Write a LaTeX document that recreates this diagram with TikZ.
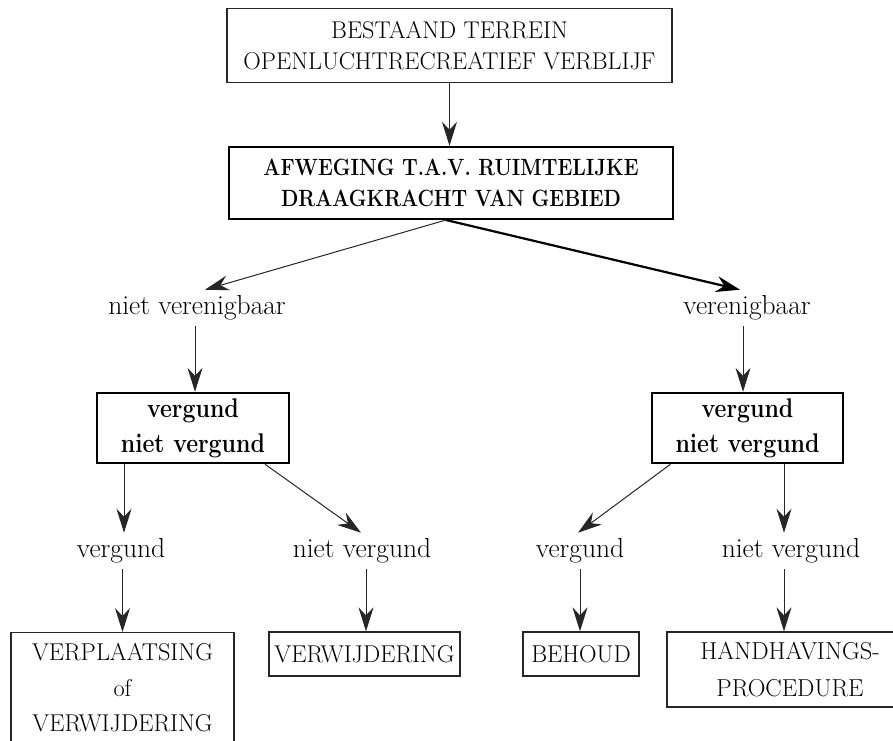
\documentclass[tikz,border=0pt]{standalone}
\usepackage{fontspec}
\newfontfamily\narrowbold[FakeStretch=0.855]{Latin Modern Roman}
\usetikzlibrary{arrows.meta}
\begin{document}
\begin{tikzpicture}[x=1pt,y=-1pt,
  every node/.style={align=center},
  box/.style={draw=black!85, line width=1.3pt, inner sep=0pt},
  heavybox/.style={draw=black, line width=2.4pt, inner sep=0pt},
  capsfont/.style={font=\fontsize{24.3}{35.5}\selectfont},
  lbl/.style={inner xsep=0pt, inner ysep=1pt, anchor=base, font=\fontsize{27.5}{33}\selectfont},
  arr/.style={draw=black!85, line width=1pt, -{Stealth[length=24pt,width=15pt,inset=8pt]}},
  arrheavy/.style={arr, draw=black, line width=2.2pt, -{Stealth[length=24pt,width=16pt,inset=8pt]}},
  fromlbl/.style={shorten <=5pt}]
\useasboundingbox (0,0) rectangle (893,740);
\clip (0,0) rectangle (893,740);

% top level
\node[box, minimum width=445pt, minimum height=74pt,
      font=\fontsize{24.2}{30.5}\selectfont] (terrein) at (449.5,45.5)
  {BESTAAND TERREIN\\OPENLUCHTRECREATIEF VERBLIJF};
\node[heavybox, minimum width=444pt, minimum height=72pt,
      font=\fontsize{23.5}{31.5}\selectfont\narrowbold\bfseries] (afweging) at (451,183)
  {AFWEGING T.A.V. RUIMTELIJKE\\DRAAGKRACHT VAN GEBIED};
\coordinate (split) at (446,220);

% outcome of the assessment
\node[lbl] (nietver) at (197,314) {niet verenigbaar};
\node[lbl] (ver) at (747,314) {verenigbaar};

% permit boxes
\node[heavybox, minimum width=192pt, minimum height=70pt,
      font=\fontsize{27}{35}\selectfont\narrowbold\bfseries] (permL) at (193,428)
  {vergund\\niet vergund};
\node[heavybox, minimum width=191pt, minimum height=70pt,
      font=\fontsize{27}{35}\selectfont\narrowbold\bfseries] (permR) at (747.5,428)
  {vergund\\niet vergund};

% permit labels
\node[lbl] (lverg) at (121,557) {vergund};
\node[lbl] (lniet) at (362,557) {niet vergund};
\node[lbl] (rverg) at (580,557) {vergund};
\node[lbl] (rniet) at (791,557) {niet vergund};

% final measures
\node[box, minimum width=223pt, minimum height=140pt, anchor=north] (verpl) at (122.5,632) {};
\node[capsfont] (verpltxt) at (122.5,688)
  {VERPLAATSING\\of\\VERWIJDERING};
\node[box, capsfont, minimum width=191pt, minimum height=44pt] (verw) at (364.5,654) {VERWIJDERING};
\node[box, capsfont, minimum width=116pt, minimum height=44pt] (behoud) at (581,654) {BEHOUD};
\node[box, minimum width=246pt, minimum height=75pt,
      font=\fontsize{24.5}{36.5}\selectfont] (handh) at (790,669.5)
  {HANDHAVINGS-\\PROCEDURE};

% connectors
\draw[arr] (terrein.south) -- (terrein.south |- afweging.north);
\draw[arr] (split) -- ([xshift=8pt,yshift=4pt]nietver.north);
\draw[arrheavy] (split) -- ([xshift=-7pt,yshift=4pt]ver.north);
\draw[arr, fromlbl] ([xshift=-2pt]nietver.south) -- ([xshift=-2pt]nietver.south |- permL.north);
\draw[arr, fromlbl] ([xshift=-4pt]ver.south) -- ([xshift=-4pt]ver.south |- permR.north);
\draw[arr] ([xshift=3pt]lverg.north |- permL.south) -- ([xshift=3pt,yshift=4pt]lverg.north);
\draw[arr] ([xshift=72pt]permL.south) -- ([xshift=-1pt,yshift=4pt]lniet.north);
\draw[arr] ([xshift=-77pt]permR.south) -- ([xshift=-2pt,yshift=4pt]rverg.north);
\draw[arr] ([xshift=36.5pt]permR.south) -- ([xshift=36.5pt,yshift=4pt]permR.south |- rniet.north);
\draw[arr, fromlbl] (verpl.north |- lverg.south) -- (verpl.north);
\draw[arr, fromlbl] ([xshift=1.5pt]verw.north |- lniet.south) -- ([xshift=1.5pt]verw.north);
\draw[arr, fromlbl] ([xshift=-1pt]behoud.north |- rverg.south) -- ([xshift=-1pt]behoud.north);
\draw[arr, fromlbl] ([xshift=-6pt]handh.north |- rniet.south) -- ([xshift=-6pt]handh.north);
\end{tikzpicture}
\end{document}
